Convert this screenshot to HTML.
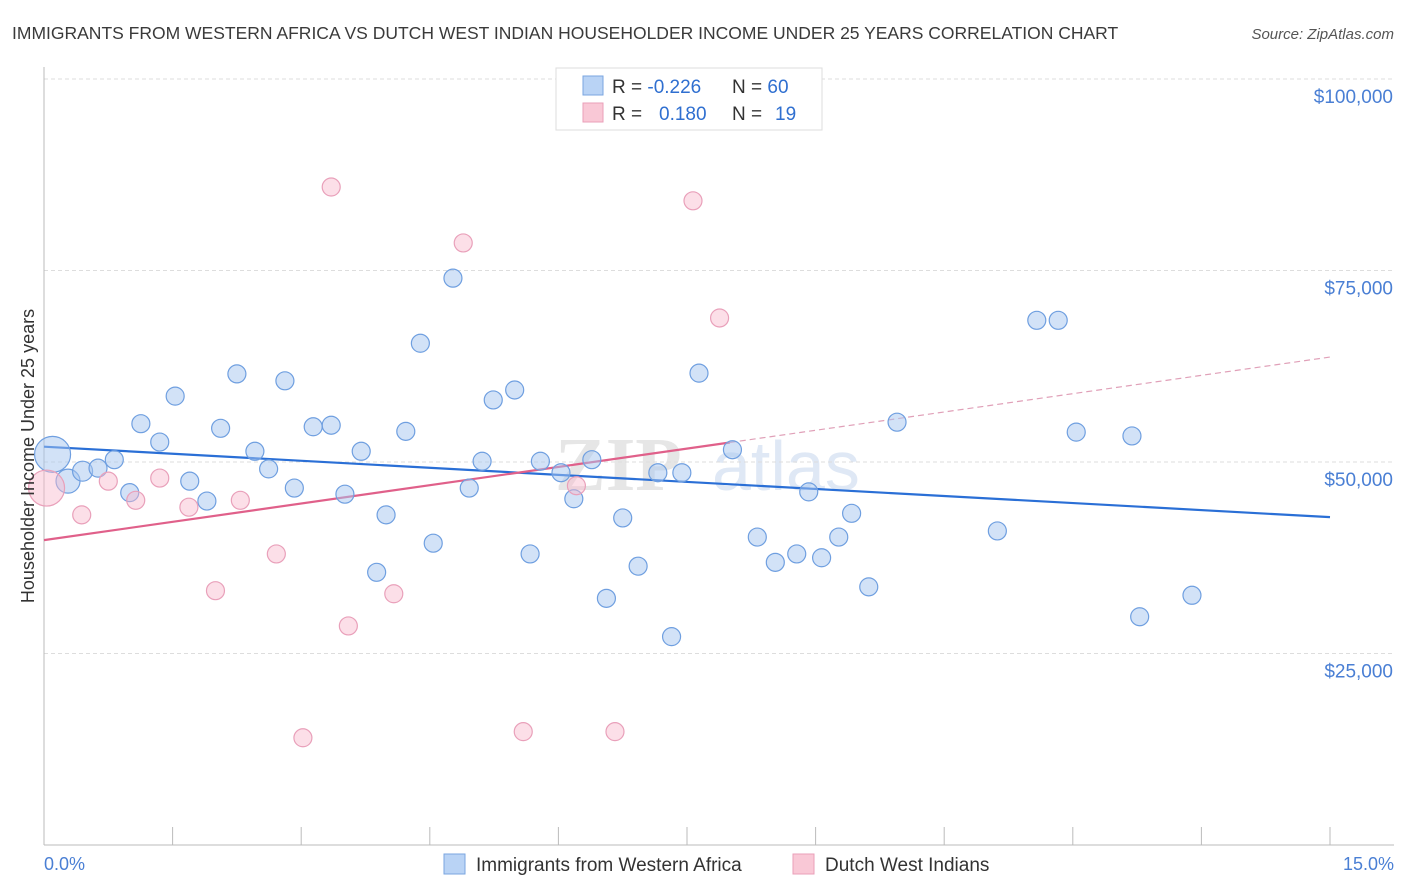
<!DOCTYPE html>
<html><head><meta charset="utf-8"><style>
body{margin:0;background:#fff;font-family:"Liberation Sans",sans-serif}
svg{display:block}
</style></head><body>
<svg id="chart" width="1406" height="892" xmlns="http://www.w3.org/2000/svg">
<text x="12" y="39" font-size="17.5" fill="#3a3a3a">IMMIGRANTS FROM WESTERN AFRICA VS DUTCH WEST INDIAN HOUSEHOLDER INCOME UNDER 25 YEARS CORRELATION CHART</text>
<text x="1394" y="39" font-size="15" fill="#555" font-style="italic" text-anchor="end">Source: ZipAtlas.com</text>
<text x="555" y="490" font-size="76" fill="#e6e6e6" font-family="Liberation Serif,serif" font-weight="bold">ZIP</text>
<text x="712" y="490" font-size="70" fill="#dfe8f5">atlas</text>
<g id="grid"></g>
<g id="axes"></g>
<g id="lines"></g>
<g id="dots"></g>
<text transform="translate(34,456) rotate(-90)" font-size="18" fill="#333" text-anchor="middle">Householder Income Under 25 years</text>
<text x="44" y="870" font-size="18" fill="#4a7fd4">0.0%</text>
<text x="1394" y="870" font-size="18" fill="#4a7fd4" text-anchor="end">15.0%</text>
<g>
<rect x="556" y="68" width="266" height="62" fill="#fff" stroke="#ddd"/>
<rect x="583" y="76" width="20" height="19" fill="#b9d3f5" stroke="#7aa6e0"/>
<rect x="583" y="103" width="20" height="19" fill="#f9c8d6" stroke="#ea9fb8"/>
<text x="612" y="93" font-size="19" fill="#333">R = <tspan fill="#2f6fd0">-0.226</tspan><tspan x="732">N = </tspan><tspan fill="#2f6fd0">60</tspan></text>
<text x="612" y="120" font-size="19" fill="#333">R = <tspan x="659" fill="#2f6fd0">0.180</tspan><tspan x="732">N = </tspan><tspan x="775" fill="#2f6fd0">19</tspan></text>
</g>
<g>
<rect x="444" y="854" width="21" height="20" fill="#b9d3f5" stroke="#7aa6e0"/>
<text x="476" y="871" font-size="19" fill="#333">Immigrants from Western Africa</text>
<rect x="793" y="854" width="21" height="20" fill="#f9c8d6" stroke="#ea9fb8"/>
<text x="825" y="871" font-size="19" fill="#333">Dutch West Indians</text>
</g>
</svg>
<script>
const yTicks=[25000,50000,75000,100000];
const yTickLabels=["$25,000","$50,000","$75,000","$100,000"];
const xTicks=[0,1.5,3,4.5,6,7.5,9,10.5,12,13.5,15];
const blueX=[0.10,0.28,0.45,0.63,0.82,1.00,1.13,1.35,1.53,1.70,1.90,2.06,2.25,2.46,2.62,2.81,2.92,3.14,3.35,3.51,3.70,3.88,3.99,4.22,4.39,4.54,4.77,4.96,5.11,5.24,5.49,5.67,5.79,6.03,6.18,6.39,6.56,6.75,6.93,7.16,7.32,7.44,7.64,8.03,8.32,8.53,8.78,8.92,9.07,9.27,9.42,9.62,9.95,11.12,11.58,11.83,12.04,12.69,12.78,13.39];
const blueY=[51.0,47.5,48.8,49.2,50.3,46.0,55.0,52.6,58.6,47.5,44.9,54.4,61.5,51.4,49.1,60.6,46.6,54.6,54.8,45.8,51.4,35.6,43.1,54.0,65.5,39.4,74.0,46.6,50.1,58.1,59.4,38.0,50.1,48.6,45.2,50.3,32.2,42.7,36.4,48.6,27.2,48.6,61.6,51.6,40.2,36.9,38.0,46.1,37.5,40.2,43.3,33.7,55.2,41.0,68.5,68.5,53.9,53.4,29.8,32.6];
const blueR=[18,12,10,9,9,9,9,9,9,9,9,9,9,9,9,9,9,9,9,9,9,9,9,9,9,9,9,9,9,9,9,9,9,9,9,9,9,9,9,9,9,9,9,9,9,9,9,9,9,9,9,9,9,9,9,9,9,9,9,9];
const pinkX=[0.03,0.44,0.75,1.07,1.35,1.69,2.00,2.29,2.71,3.02,3.35,3.55,4.08,4.89,5.59,6.21,6.66,7.57,7.88];
const pinkY=[46.6,43.1,47.5,45.0,47.9,44.1,33.2,45.0,38.0,14.0,85.9,28.6,32.8,78.6,14.8,46.9,14.8,84.1,68.8];
const pinkR=[18,9,9,9,9,9,9,9,9,9,9,9,9,9,9,9,9,9,9];
const blueTrend=[52.0,42.8];
const pinkTrend=[39.8,63.7];
const pinkSolidEnd=8.0;
const NS="http://www.w3.org/2000/svg";
const X0=44,X1=1330,YB=845,YT=79;
const sx=v=>X0+(v/15)*(X1-X0);
const sy=v=>YB-(v/100000)*(YB-YT);
function mk(tag,attrs,parent){const e=document.createElementNS(NS,tag);for(const k in attrs)e.setAttribute(k,attrs[k]);document.getElementById(parent).appendChild(e);return e;}
yTicks.forEach((t,i)=>{
 const l=mk('line',{x1:X0,x2:1394,y1:sy(t),y2:sy(t),stroke:'#ddd','stroke-dasharray':'4,3'},'grid');
 
 
 const tx=mk('text',{x:1393,y:sy(t)+24,'font-size':19,fill:'#4a7fd4','text-anchor':'end'},'grid');
 tx.textContent=yTickLabels[i];
 
 
});
const topg=mk('line',{x1:X0,x2:1394,y1:sy(100000),y2:sy(100000),stroke:'#ddd','stroke-dasharray':'4,3'},'grid');
const ya=mk('line',{x1:X0,x2:X0,y1:67,y2:YB,stroke:'#bbb'},'axes');


const xa=mk('line',{x1:X0,x2:1394,y1:YB,y2:YB,stroke:'#bbb'},'axes');


xTicks.forEach(t=>{
 const l=mk('line',{x1:sx(t),x2:sx(t),y1:827,y2:YB,stroke:'#bbb'},'axes');
 
 
});
function dots(xs,ys,rs,fill,stroke,name){
 xs.forEach((x,i)=>{
  const c=mk('circle',{cx:sx(x),cy:sy(ys[i]*1000),r:rs[i],fill:fill,stroke:stroke,'stroke-width':1.2},'dots');
  
  
 });
}
dots(blueX,blueY,blueR,'rgba(165,198,240,0.5)','#6f9fe0','western-africa-point');
dots(pinkX,pinkY,pinkR,'rgba(248,185,205,0.45)','#e9a0ba','dutch-west-indian-point');
const bl=mk('line',{x1:sx(0),y1:sy(blueTrend[0]*1000),x2:sx(15),y2:sy(blueTrend[1]*1000),stroke:'#2a6fd6','stroke-width':2.2},'lines');


const pv=x=>pinkTrend[0]+(pinkTrend[1]-pinkTrend[0])*x/15;
const pl=mk('line',{x1:sx(0),y1:sy(pv(0)*1000),x2:sx(pinkSolidEnd),y2:sy(pv(pinkSolidEnd)*1000),stroke:'#e0608a','stroke-width':2.2},'lines');


const pd=mk('line',{x1:sx(pinkSolidEnd),y1:sy(pv(pinkSolidEnd)*1000),x2:sx(15),y2:sy(pv(15)*1000),stroke:'#e0a0b8','stroke-width':1.2,'stroke-dasharray':'6,4'},'lines');


</script>
</body></html>
